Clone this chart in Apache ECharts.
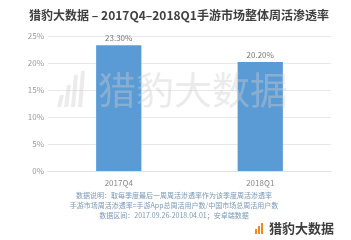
<!DOCTYPE html>
<html><head><meta charset="utf-8">
<script src="https://cdn.jsdelivr.net/npm/echarts@6/dist/echarts.min.js"></script>
<style>html,body{margin:0;padding:0;background:#fff}#c{width:351px;height:240px}</style>
</head><body><div id="c"></div>
<script>
const categories = ['2017Q4', '2018Q1'];
const penetration = [23.30, 20.20];
const yMax = 25, yStep = 5;
const titleText = '猎豹大数据 – 2017Q4–2018Q1手游市场整体周活渗透率';
const noteLines = [
  '数据说明：取每季度最后一周周活渗透率作为该季度周活渗透率',
  '手游市场周活渗透率=手游App总周活用户数/中国市场总周活用户数',
  '数据区间：2017.09.26-2018.04.01；安卓端数据'
];
const brand = '猎豹大数据';

const F = '"Noto Sans CJK SC", "Noto Sans", sans-serif';
const chart = echarts.init(document.getElementById('c'));

function barsIcon(x0, yb, w, gap, hs, color, skew, z) {
  return hs.map((h, i) => ({
    type: 'polygon', z: z,
    shape: { points: [
      [x0 + i * gap, yb], [x0 + i * gap + w, yb],
      [x0 + i * gap + w + skew, yb - h], [x0 + i * gap + skew, yb - h]
    ] },
    style: { fill: color }
  }));
}

chart.setOption({
  animation: false,
  textStyle: { fontFamily: F },
  grid: { left: 48, right: 20, top: 36, bottom: 69 },
  xAxis: {
    type: 'category', data: categories,
    axisLine: { lineStyle: { color: '#e0e0e0' } },
    axisTick: { show: false },
    axisLabel: { color: '#8a8a8a', fontSize: 8, margin: 8, fontFamily: F }
  },
  yAxis: {
    type: 'value', min: 0, max: yMax, interval: yStep,
    axisLine: { show: false }, axisTick: { show: false },
    axisLabel: { formatter: '{value}%', color: '#9a9a9a', fontSize: 8, margin: 4, fontFamily: F },
    splitLine: { lineStyle: { color: '#e8e8e8' } }
  },
  series: [{
    type: 'bar', data: penetration, barWidth: '32%',
    itemStyle: { color: '#5b9bd5' },
    label: { show: true, position: 'top', distance: 3, color: '#777', fontSize: 8,
      formatter: p => p.value.toFixed(2) + '%' }
  }],
  graphic: [
    { type: 'text', x: 179, y: 15, z: 10,
      style: { text: titleText, fill: '#404040', font: 'bold 12px ' + F, textAlign: 'center', textVerticalAlign: 'middle' } },
    { type: 'text', x: 98, y: 90, z: 100,
      style: { text: brand, fill: 'rgba(205,205,205,0.4)', font: '38px ' + F, textVerticalAlign: 'middle' } },
    ...barsIcon(57, 107, 4, 7, [12, 22, 32, 36], 'rgba(205,205,205,0.4)', 3, 100),
    ...noteLines.map((t, i) => ({
      type: 'text', x: 174, y: 195 + i * 10, z: 10,
      style: { text: t, fill: '#7a98b8', font: '7px ' + F, textAlign: 'center', textVerticalAlign: 'middle' }
    })),
    { type: 'text', x: 269, y: 228, z: 10,
      style: { text: brand, fill: '#3c3c3c', font: 'bold 13px ' + F, textVerticalAlign: 'middle' } },
    ...barsIcon(255, 234, 2, 3, [5, 8, 11], '#f08a1c', 0, 10)
  ]
});
</script></body></html>
